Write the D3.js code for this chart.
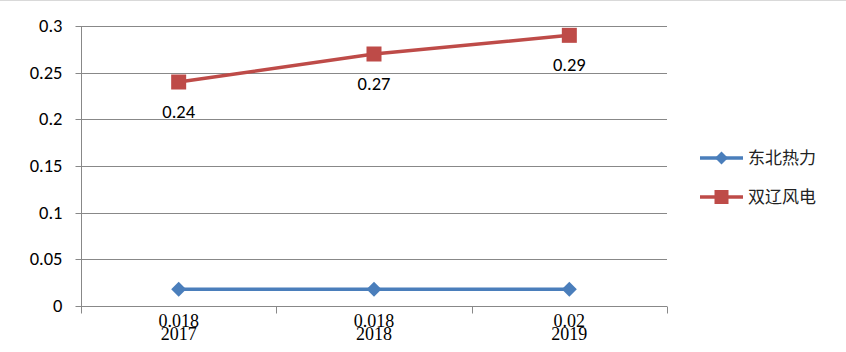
<!DOCTYPE html>
<html><head><meta charset="utf-8">
<script src="https://cdn.jsdelivr.net/npm/d3@7"></script>
<style>body{margin:0;background:#fff}</style>
</head><body><svg id="c" width="846" height="352"></svg>
<script>
const categories = ["2017", "2018", "2019"];
const seriesNames = ["东北热力", "双辽风电"];
const dongbei = [0.018, 0.018, 0.018];
const dongbeiLabels = ["0.018", "0.018", "0.02"];
const shuangliao = [0.24, 0.27, 0.29];
const shuangliaoLabels = ["0.24", "0.27", "0.29"];
const yTicks = [0, 0.05, 0.1, 0.15, 0.2, 0.25, 0.3];
const yTickLabels = ["0", "0.05", "0.1", "0.15", "0.2", "0.25", "0.3"];
const colors = ["#4A7EBB", "#BE4B48"];

const svg = d3.select("#c");
svg.append("line").attr("x1",0).attr("x2",846).attr("y1",0.5).attr("y2",0.5).attr("stroke","#d9d9d9");

const x = d3.scaleBand().domain(categories).range([81, 667]);
const y = d3.scaleLinear().domain([0, 0.3]).range([306, 26]);

const diamond = r => `M0,${-r}L${r},0L0,${r}L${-r},0Z`;

// gridlines
svg.append("g").selectAll("line").data(yTicks.slice(1)).join("line")
  .attr("x1", 81).attr("x2", 667)
  .attr("y1", d => Math.round(y(d)) + 0.5).attr("y2", d => Math.round(y(d)) + 0.5)
  .attr("stroke", "#888").attr("stroke-width", 1.2);

// y axis
const yAxis = d3.axisLeft(y).tickValues(yTicks).tickFormat((d,i) => yTickLabels[i]).tickSize(6).tickPadding(13);
const gy = svg.append("g").attr("transform", "translate(81.5,0)").call(yAxis);
gy.select(".domain").attr("stroke", "#888").attr("d", "M0,26V306");
gy.selectAll(".tick line").attr("stroke", "#888");
gy.selectAll(".tick").attr("transform", d => `translate(0,${Math.round(y(d)) + 0.5})`);
gy.selectAll("text").attr("font-family", "Carlito, 'Liberation Sans', sans-serif").attr("font-size", 18.5).attr("fill", "#000");

// x axis
const gx = svg.append("g").attr("transform", "translate(0,306.5)");
gx.append("line").attr("x1", 81).attr("x2", 667).attr("stroke", "#888");
const bounds = categories.map(c => x(c)).concat([667]);
gx.selectAll("line.t").data(bounds).join("line").attr("class","t")
  .attr("x1", d => Math.round(d) + 0.5).attr("x2", d => Math.round(d) + 0.5)
  .attr("y1", 0).attr("y2", 7).attr("stroke", "#888");
gx.selectAll("text").data(categories).join("text")
  .attr("x", d => x(d) + x.bandwidth()/2).attr("y", 33)
  .attr("text-anchor", "middle").attr("font-family", "'Liberation Serif', serif")
  .attr("font-size", 18).text(d => d);

const cx = c => x(c) + x.bandwidth()/2;
const line = d3.line().x((d,i) => cx(categories[i])).y(d => y(d));

// blue series
svg.append("path").datum(dongbei).attr("d", line).attr("fill","none")
  .attr("stroke", colors[0]).attr("stroke-width", 3.5);
svg.append("g").selectAll("path").data(dongbei).join("path")
  .attr("d", diamond(7.5))
  .attr("transform", (d,i) => `translate(${cx(categories[i])},${y(d)})`)
  .attr("fill", colors[0]);
svg.append("g").selectAll("text").data(dongbei).join("text")
  .attr("x", (d,i) => cx(categories[i])).attr("y", d => y(d) + 38)
  .attr("text-anchor","middle").attr("font-family","'Liberation Serif', serif")
  .attr("font-size", 18).text((d,i) => dongbeiLabels[i]);

// red series
svg.append("path").datum(shuangliao).attr("d", line).attr("fill","none")
  .attr("stroke", colors[1]).attr("stroke-width", 3.5);
svg.append("g").selectAll("rect").data(shuangliao).join("rect")
  .attr("x", (d,i) => cx(categories[i]) - 7.5).attr("y", d => y(d) - 7.5)
  .attr("width", 15).attr("height", 15).attr("fill", colors[1]);
svg.append("g").selectAll("text").data(shuangliao).join("text")
  .attr("x", (d,i) => cx(categories[i])).attr("y", d => y(d) + 36)
  .attr("text-anchor","middle").attr("font-family","Carlito, 'Liberation Sans', sans-serif")
  .attr("font-size", 18.5).text((d,i) => shuangliaoLabels[i]);

// legend
const lg = svg.append("g");
seriesNames.forEach((n, i) => {
  const yy = 158 + i * 39;
  lg.append("line").attr("x1", 700).attr("x2", 743).attr("y1", yy).attr("y2", yy)
    .attr("stroke", colors[i]).attr("stroke-width", 3.5);
  if (i === 0) {
    lg.append("path").attr("d", diamond(6.5)).attr("transform", `translate(721.5,${yy})`).attr("fill", colors[0]);
  } else {
    lg.append("rect").attr("x", 714.5).attr("y", yy - 7).attr("width", 14).attr("height", 14).attr("fill", colors[1]);
  }
  lg.append("text").attr("x", 748).attr("y", yy + 6).attr("font-family", "'Noto Sans CJK SC', sans-serif")
    .attr("font-size", 17).attr("fill", "#222").text(n);
});
</script></body></html>
